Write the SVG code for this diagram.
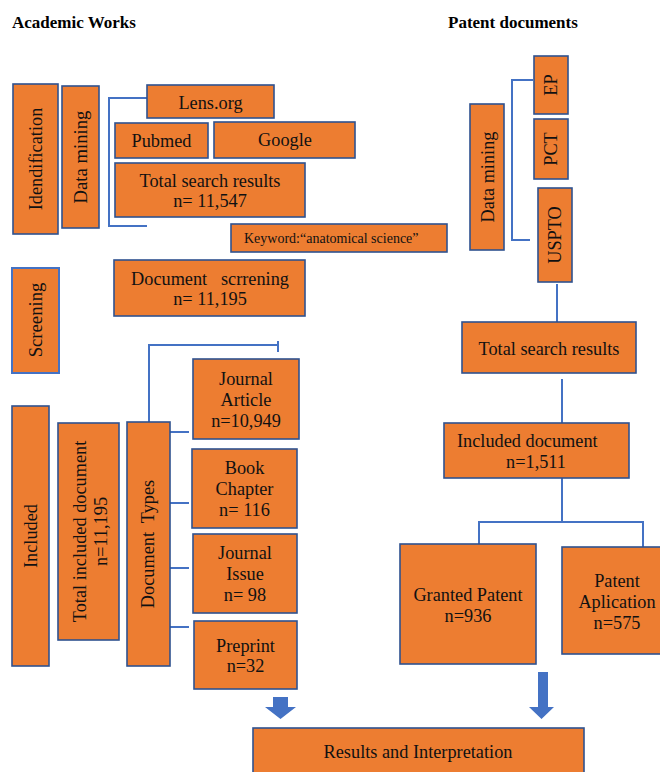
<svg xmlns="http://www.w3.org/2000/svg" width="660" height="772" viewBox="0 0 660 772">
<style>
.box{fill:#ED7D31;stroke:#2F528F;stroke-width:1.6}
.box2{fill:#ED7D31;stroke:#4472C4;stroke-width:2}
.t{font-family:"Liberation Serif","Times New Roman",serif;font-size:18.3px;fill:#111;text-anchor:middle}
.ts{font-family:"Liberation Serif","Times New Roman",serif;font-size:14px;fill:#111}
.h{font-family:"Liberation Serif","Times New Roman",serif;font-size:17px;font-weight:bold;fill:#000}
.c{fill:none;stroke:#4472C4;stroke-width:2}
.arr{fill:#4472C4}
</style>
<rect width="660" height="772" fill="#fff"/>
<text class="h" x="12" y="28">Academic Works</text>
<text class="h" x="448" y="28">Patent documents</text>

<g id="connectors">
<path class="c" d="M147 98 H109 V226 H147"/>
<path class="c" d="M149 422 V345 H278 M278 341 V352"/>
<path class="c" d="M170 432 H189 M170 503 H189 M170 568 H189 M170 627 H189"/>
<path class="c" d="M533 80 H512 V240 H530"/>
<path class="c" d="M557 284 V322"/>
<path class="c" d="M562 379 V423"/>
<path class="c" d="M562 478 V522 M479 544 V522 H643 V547"/>
<path class="arr" d="M273 697 H288 V707 H296 L280.5 719 L265 707 H273 Z"/>
<path class="arr" d="M538 672 H548 V707 H554 L541.5 719 L529 707 H538 Z"/>
</g>

<g id="identification"><rect class="box" x="13" y="84" width="45" height="150"/><text class="t" transform="translate(42,159) rotate(-90)">Idendification</text></g>
<g id="data-mining-left"><rect class="box" x="62" y="86" width="37" height="142"/><text class="t" transform="translate(87,157) rotate(-90)" style="font-size:18.7px">Data mining</text></g>
<g id="lens"><rect class="box" x="147" y="85" width="127" height="33"/><text class="t" x="210.5" y="108.5">Lens.org</text></g>
<g id="pubmed"><rect class="box" x="115" y="123" width="93" height="35"/><text class="t" x="161.5" y="147">Pubmed</text></g>
<g id="google"><rect class="box" x="214" y="122" width="141" height="36"/><text class="t" x="285" y="146">Google</text></g>
<g id="total-left"><rect class="box" x="115" y="163" width="190" height="54"/><text class="t" x="210" y="187">Total search results</text><text class="t" x="210" y="207">n= 11,547</text></g>
<g id="keyword"><rect class="box" x="231" y="224" width="216" height="28"/><text class="ts" x="244" y="243">Keyword:“anatomical science”</text></g>
<g id="screening"><rect class="box2" x="12" y="268" width="47" height="105"/><text class="t" transform="translate(42,320) rotate(-90)" style="font-size:18.7px">Screening</text></g>
<g id="doc-screening"><rect class="box" x="114" y="260" width="191" height="56"/><text class="t" x="210" y="285" xml:space="preserve">Document   scrrening</text><text class="t" x="210" y="305">n= 11,195</text></g>
<g id="included"><rect class="box" x="12" y="406" width="37" height="260"/><text class="t" transform="translate(37,536) rotate(-90)">Included</text></g>
<g id="total-included"><rect class="box" x="58" y="423" width="61" height="217"/><text class="t" transform="translate(86,531.5) rotate(-90)">Total included document</text><text class="t" transform="translate(107,531.5) rotate(-90)">n=11,195</text></g>
<g id="doc-types"><rect class="box" x="127" y="422" width="43" height="244"/><text class="t" transform="translate(154,544) rotate(-90)" xml:space="preserve">Document  Types</text></g>
<g id="journal-article"><rect class="box" x="193" y="359" width="106" height="80"/><text class="t" x="246" y="385">Journal</text><text class="t" x="246" y="406">Article</text><text class="t" x="246" y="427">n=10,949</text></g>
<g id="book-chapter"><rect class="box" x="192" y="449" width="105" height="79"/><text class="t" x="244.5" y="474">Book</text><text class="t" x="244.5" y="495">Chapter</text><text class="t" x="244.5" y="516">n= 116</text></g>
<g id="journal-issue"><rect class="box" x="193" y="534" width="104" height="79"/><text class="t" x="245" y="559">Journal</text><text class="t" x="245" y="580">Issue</text><text class="t" x="245" y="601">n= 98</text></g>
<g id="preprint"><rect class="box" x="194" y="621" width="103" height="68"/><text class="t" x="245.5" y="652">Preprint</text><text class="t" x="245.5" y="672">n=32</text></g>

<g id="ep"><rect class="box" x="534" y="56" width="34" height="58"/><text class="t" transform="translate(557,85) rotate(-90)">EP</text></g>
<g id="pct"><rect class="box" x="534" y="119" width="34" height="60"/><text class="t" transform="translate(557,149) rotate(-90)">PCT</text></g>
<g id="uspto"><rect class="box" x="538" y="188" width="34" height="94"/><text class="t" transform="translate(561,235) rotate(-90)">USPTO</text></g>
<g id="data-mining-right"><rect class="box" x="470" y="104" width="34" height="146"/><text class="t" transform="translate(494,177) rotate(-90)">Data mining</text></g>
<g id="total-right"><rect class="box" x="462" y="322" width="174" height="51"/><text class="t" x="549" y="355">Total search results</text></g>
<g id="included-doc"><rect class="box" x="444" y="423" width="185" height="55"/><text class="t" x="457" y="447" style="text-anchor:start">Included document</text><text class="t" x="536" y="468">n=1,511</text></g>
<g id="granted"><rect class="box" x="400" y="544" width="136" height="120"/><text class="t" x="468" y="601">Granted Patent</text><text class="t" x="468" y="622">n=936</text></g>
<g id="application"><rect class="box" x="562" y="547" width="110" height="107"/><text class="t" x="617" y="587">Patent</text><text class="t" x="617" y="608">Aplication</text><text class="t" x="617" y="629">n=575</text></g>
<g id="results"><rect class="box" x="253" y="728" width="331" height="60"/><text class="t" x="418" y="758">Results and Interpretation</text></g>
</svg>
